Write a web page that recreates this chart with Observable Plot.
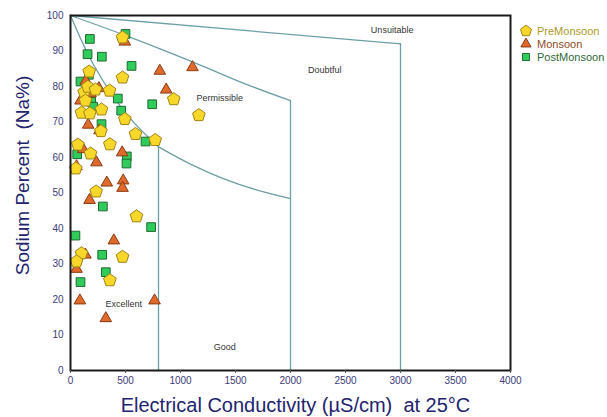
<!DOCTYPE html>
<html>
<head>
<meta charset="utf-8">
<script src="https://cdn.jsdelivr.net/npm/d3@7"></script>
<script src="https://cdn.jsdelivr.net/npm/@observablehq/plot@0.6"></script>
<style>
  body { margin: 0; background: #fff; font-family: "Liberation Sans", Arial, sans-serif; }
  #chart { position: relative; width: 607px; height: 417px; }
  .legend { position: absolute; left: 520px; top: 24px; font-size: 11px; }
  .legend div { display: flex; align-items: center; height: 13.3px; }
  .legend svg { margin-right: 5px; }
</style>
</head>
<body>
<div id="chart"></div>
<script>
// Axis ticks
const xTicks = [0, 500, 1000, 1500, 2000, 2500, 3000, 3500, 4000];
const yTicks = [0, 10, 20, 30, 40, 50, 60, 70, 80, 90, 100];

// Wilcox classification boundaries: [EC, Na%]
const excellentUpper = [[0, 100], [212, 86], [515, 72], [800, 63]];
const goodUpper = [[800, 63], [1100, 58], [1394, 54], [1700, 50.8], [2000, 48.4]];
const permissibleUpper = [[0, 100], [515, 94.2], [1121, 86.8], [1576, 80.9], [2000, 76]];
const doubtfulUpper = [[0, 100], [3000, 92]];
const excellentRight = [[800, 63], [800, 0]];
const permissibleRight = [[2000, 76], [2000, 0]];
const doubtfulRight = [[3000, 92], [3000, 0]];

// Class names and where they sit on the diagram
const zoneNames = ["Unsuitable", "Doubtful", "Permissible", "Excellent", "Good"];
const zoneEC = [2924, 2312, 1357, 485, 1403];
const zoneNa = [95.9, 84.7, 76.8, 18.6, 6.6];

// Samples: [EC (µS/cm), Na%]
const preMonsoon = [
  [473, 93.8], [170, 84.2], [473, 82.5], [124, 78.4], [158, 79.9], [227, 79.1],
  [355, 78.8], [939, 76.4], [136, 76.0], [100, 72.6], [176, 72.4], [282, 73.5],
  [1167, 71.9], [494, 70.8], [276, 67.4], [591, 66.6], [770, 64.9], [67, 63.6],
  [358, 63.7], [182, 61.1], [48, 56.9], [233, 50.4], [600, 43.4], [100, 33.0],
  [55, 30.7], [473, 32.0], [358, 25.4]
];
const monsoon = [
  [494, 92.6], [812, 84.4], [1109, 85.4], [870, 79.1], [139, 81.6], [182, 78.0],
  [258, 79.5], [91, 76.0], [161, 69.2], [264, 67.6], [115, 62.3], [470, 61.4],
  [236, 58.6], [55, 57.5], [330, 52.9], [479, 53.5], [473, 51.4], [173, 48.0],
  [394, 36.6], [136, 32.6], [55, 28.6], [85, 19.7], [764, 19.7], [321, 14.7]
];
const postMonsoon = [
  [500, 94.8], [176, 93.4], [155, 89.1], [285, 88.4], [555, 85.8], [91, 81.4],
  [167, 83.3], [430, 76.6], [743, 75.0], [188, 75.7], [206, 74.3], [461, 73.2],
  [282, 69.4], [682, 64.5], [61, 60.9], [512, 60.3], [509, 58.3], [294, 46.2],
  [45, 38.0], [733, 40.4], [288, 32.6], [321, 27.7], [91, 24.9]
];

const seriesNames = ["PreMonsoon", "Monsoon", "PostMonsoon"];

// Regular pentagon symbol, point up
const pentagon = {
  draw(context, size) {
    const r = Math.sqrt(size / (2.5 * Math.sin(2 * Math.PI / 5)));
    for (let k = 0; k < 5; ++k) {
      const a = -Math.PI / 2 + k * 2 * Math.PI / 5;
      const px = r * Math.cos(a), py = r * Math.sin(a);
      if (k === 0) context.moveTo(px, py); else context.lineTo(px, py);
    }
    context.closePath();
  }
};

const lineColor = "#6c9fa5";
const boundary = (pts) => Plot.line(pts, {x: d => d[0], y: d => d[1], stroke: lineColor, strokeWidth: 1.3, curve: "catmull-rom"});

const zones = zoneNames.map((name, i) => ({name, ec: zoneEC[i], na: zoneNa[i]}));

const chart = Plot.plot({
  width: 607,
  height: 417,
  marginLeft: 70,
  marginRight: 97,
  marginTop: 15,
  marginBottom: 47,
  style: {fontFamily: "Liberation Sans, Arial, sans-serif", fontSize: "10px", color: "#3b3b78", background: "#fff"},
  x: {domain: [0, 4000]},
  y: {domain: [0, 100]},
  marks: [
    boundary(excellentUpper),
    boundary(goodUpper),
    boundary(permissibleUpper),
    boundary(doubtfulUpper),
    boundary(excellentRight),
    boundary(permissibleRight),
    boundary(doubtfulRight),
    Plot.text(zones, {x: "ec", y: "na", text: "name", fill: "#333", fontSize: 9}),
    Plot.dot(postMonsoon, {x: d => d[0], y: d => d[1], symbol: "square", r: 4.9, fill: "#2fcc5c", stroke: "#1f6a30", strokeWidth: 1}),
    Plot.dot(monsoon, {x: d => d[0], y: d => d[1], symbol: "triangle", r: 4.3, fill: "#e06a2c", stroke: "#8a3a12", strokeWidth: 1}),
    Plot.dot(preMonsoon, {x: d => d[0], y: d => d[1], symbol: pentagon, r: 5.8, fill: "#f7d72a", stroke: "#a08418", strokeWidth: 1}),
    Plot.frame({stroke: "#1a1a1a", strokeWidth: 2}),
    Plot.axisX({ticks: xTicks, tickFormat: d3.format("d"), tickSize: 3, tickPadding: 3, label: null, stroke: "#555"}),
    Plot.axisY({ticks: yTicks, tickFormat: d3.format("d"), tickSize: 0, tickPadding: 7, label: null}),
    Plot.text(["Electrical Conductivity (µS/cm)  at 25°C"], {frameAnchor: "bottom", textAnchor: "middle", dx: 5, dy: 41.5, fontSize: 20, fill: "#23236e"}),
    Plot.text(["Sodium Percent  (Na%)"], {frameAnchor: "left", textAnchor: "middle", dx: -48, dy: -17.5, rotate: -90, fontSize: 19, fill: "#23236e"})
  ]
});

const host = document.getElementById("chart");
host.appendChild(chart);

// Legend for the three seasons
const legendStyles = [
  {fill: "#f7d72a", stroke: "#a08418", text: "#ad9a2c", path: d3.symbol(pentagon, 80)()},
  {fill: "#e06a2c", stroke: "#8a3a12", text: "#8e4a26", path: d3.symbol(d3.symbolTriangle, 45)()},
  {fill: "#2fcc5c", stroke: "#1f6a30", text: "#2f6a3a", path: d3.symbol(d3.symbolSquare, 50)()}
];
const legend = document.createElement("div");
legend.className = "legend";
seriesNames.forEach((name, i) => {
  const s = legendStyles[i];
  const row = document.createElement("div");
  row.innerHTML = `<svg width="12" height="12" viewBox="-6 -6 12 12"><path d="${s.path}" fill="${s.fill}" stroke="${s.stroke}" stroke-width="1"/></svg><span style="color:${s.text}">${name}</span>`;
  legend.appendChild(row);
});
host.appendChild(legend);
</script>
</body>
</html>
